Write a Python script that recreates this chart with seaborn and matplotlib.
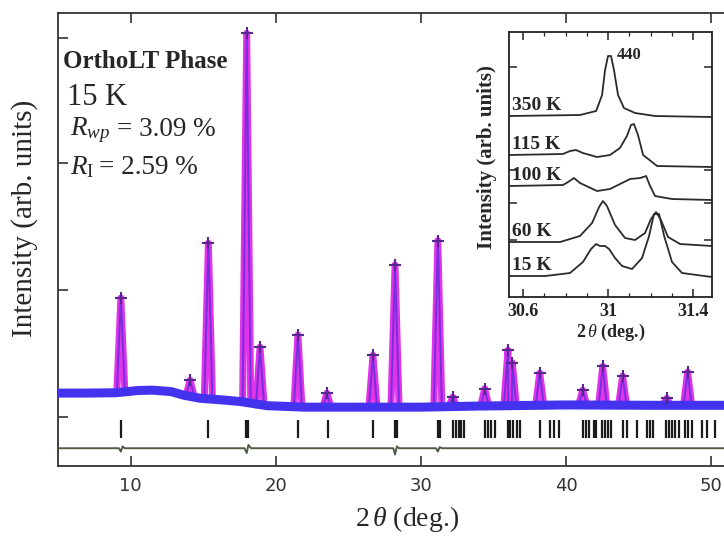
import numpy as np
import pandas as pd
import seaborn as sns
import matplotlib.pyplot as plt
from matplotlib.ticker import FixedLocator, MultipleLocator, NullFormatter

# --- 1. Data ---
# observed background (2theta in deg, intensity in arb. units)
bg_2theta = [4.9, 7.0, 9.0, 10.5, 11.5, 12.8, 13.7, 14.8, 16.5, 17.6, 19.4, 22.0, 26.0, 30.0, 34.0, 40.0, 46.0, 51.5]
bg_int = [3.8, 3.8, 3.9, 4.5, 4.6, 4.2, 3.2, 2.4, 1.9, 1.5, 0.4, 0.0, 0.0, 0.0, 0.3, 0.6, 0.5, 0.5]

# Bragg peaks of the refined pattern
peak_2theta = [9.33, 14.1, 15.36, 18.0, 18.92, 21.53, 23.53, 26.7, 28.22, 31.17,
               32.2, 34.4, 36.0, 36.3, 38.19, 41.15, 42.53, 43.9, 46.94, 48.38]
peak_base = [3.9, 3.0, 2.2, 1.2, 0.6, 0.0, 0.0, 0.0, 0.0, 0.0,
             0.1, 0.3, 0.4, 0.4, 0.5, 0.6, 0.6, 0.5, 0.5, 0.5]
peak_top = [29.5, 7.3, 44.3, 101.0, 16.2, 19.5, 3.8, 14.0, 38.4, 45.0,
            2.7, 5.0, 15.4, 12.0, 9.2, 4.6, 11.0, 8.4, 2.4, 9.5]

# reflection markers
bragg_2theta = [9.33, 15.36, 17.95, 18.1, 21.53, 23.6, 26.7, 28.2, 28.35, 31.17, 31.3,
                32.2, 32.4, 32.6, 32.8, 33.0, 34.4, 34.6, 34.8, 35.1, 36.0, 36.15, 36.35,
                36.6, 36.8, 38.2, 38.9, 39.2, 39.5, 41.2, 41.4, 41.6, 41.9, 42.1, 42.5,
                42.7, 42.9, 43.1, 43.9, 44.2, 44.9, 45.6, 45.8, 46.0, 46.9, 47.1, 47.3,
                47.5, 47.8, 48.2, 48.4, 48.7, 49.4, 49.7, 50.3]

# difference curve (obs - calc)
diff_2theta = [4.9, 9.2, 9.33, 9.45, 9.6, 17.85, 18.0, 18.12, 18.3, 28.1, 28.22, 28.35, 28.5,
               31.05, 31.17, 31.3, 31.45, 51.5]
diff_int = [-11.1, -11.1, -12.0, -10.6, -11.1, -11.1, -12.4, -10.2, -11.1, -11.1, -12.8, -10.6, -11.1,
            -11.1, -12.0, -10.8, -11.1, -11.1]

main_yticks = [-2.7, 31.6, 65.9, 99.7]

# inset: 440 reflection at several temperatures
inset_temps = ['350 K', '115 K', '100 K', '60 K', '15 K']
x_350 = [30.534, 30.868, 30.944, 30.972, 30.986, 31.0, 31.014, 31.028, 31.047, 31.075, 31.127, 31.221, 31.489]
y_350 = [181, 182, 186, 202, 227, 241, 241, 227, 202, 189, 184, 181, 180]
x_115 = [30.534, 30.788, 30.821, 30.849, 30.882, 30.948, 31.009, 31.056, 31.089, 31.108, 31.122, 31.141, 31.165, 31.231, 31.489]
y_115 = [142, 143, 146, 147, 144, 140, 142, 149, 161, 172, 173, 162, 142, 131, 130]
x_100 = [30.534, 30.788, 30.812, 30.840, 30.868, 30.948, 31.009, 31.066, 31.104, 31.151, 31.179, 31.198, 31.221, 31.301, 31.489]
y_100 = [111, 112, 115, 119, 114, 106, 108, 114, 118, 119, 121, 111, 101, 98, 97]
x_60 = [30.534, 30.774, 30.868, 30.925, 30.958, 30.976, 30.995, 31.033, 31.080, 31.127, 31.174, 31.202, 31.226, 31.249, 31.282, 31.339, 31.489]
y_60 = [55, 55, 61, 74, 90, 96, 91, 72, 59, 57, 64, 78, 85, 77, 60, 53, 51]
x_15 = [30.534, 30.704, 30.821, 30.882, 30.920, 30.944, 30.962, 30.986, 31.005, 31.033, 31.066, 31.113, 31.160, 31.193, 31.216, 31.240, 31.264, 31.301, 31.348, 31.489]
y_15 = [21, 21, 24, 35, 48, 53, 51, 51, 48, 39, 31, 28, 39, 61, 83, 83, 61, 35, 24, 20]
inset_label_y = [183, 144, 113, 57, 23]
inset_xticks = [30.6, 31.0, 31.4]
inset_xticklabels = ['30.6', '31', '31.4']
inset_yticks = [57, 94, 127, 230]

# --- 2. Style ---
sns.set_theme(style='ticks')
plt.rcParams['font.family'] = ['Liberation Serif', 'DejaVu Serif']
plt.rcParams['mathtext.fontset'] = 'custom'
plt.rcParams['mathtext.rm'] = 'Liberation Serif'
plt.rcParams['mathtext.it'] = 'Liberation Serif:italic'
plt.rcParams['mathtext.bf'] = 'Liberation Serif:bold'

fig = plt.figure(figsize=(7.24, 5.37), dpi=100)
ax = fig.add_axes([0.0801, 0.1322, 0.9282, 0.8436])

# --- 3. Main pattern ---
half_w = 0.28
vx, vy = list(bg_2theta), list(bg_int)
for p, b, t in zip(peak_2theta, peak_base, peak_top):
    vx += [p - half_w, p, p + half_w]
    vy += [b, t, b]
order = np.argsort(vx, kind='stable')
profile = pd.DataFrame({'two_theta': np.array(vx)[order],
                        'intensity': np.array(vy)[order]})

sns.lineplot(data=profile, x='two_theta', y='intensity', estimator=None, sort=False,
             color='#e233ea', linewidth=5, ax=ax, zorder=2)
sns.lineplot(data=profile, x='two_theta', y='intensity', estimator=None, sort=False,
             color='#5a2fd8', linewidth=1.4, alpha=0.8, ax=ax, zorder=3)
sns.lineplot(x=bg_2theta, y=bg_int, estimator=None, sort=False,
             color='#4433ee', linewidth=6.5, ax=ax, zorder=4)
sns.scatterplot(x=peak_2theta, y=peak_top, marker='+', s=70, color='#55288f',
                linewidth=1.5, ax=ax, zorder=6, legend=False)
ax.vlines(bragg_2theta, -8.4, -3.5, colors='#1a1a1a', linewidth=1.6, zorder=3)
sns.lineplot(x=diff_2theta, y=diff_int, estimator=None, sort=False,
             color='#4f5d47', linewidth=1.4, ax=ax, zorder=3)

ax.set_xlim(5.0, 51.3)
ax.set_ylim(-15.9, 106.5)
ax.set_xticks([10, 20, 30, 40, 50])
ax.yaxis.set_major_locator(FixedLocator(main_yticks))
ax.yaxis.set_major_formatter(NullFormatter())
ax.tick_params(direction='in', top=True, right=False, length=7, width=1.2,
               labelsize=13, pad=8, colors='#333333')
for lab in ax.get_xticklabels():
    lab.set_family('DejaVu Sans')
for sp in ax.spines.values():
    sp.set_linewidth(1.3)
    sp.set_color('#333333')
ax.set_xlabel('')
ax.set_ylabel('')

fig.text(0.562, 0.034, r'2$\,\theta$ (deg.)', ha='center', va='center', fontsize=20)
fig.text(0.0345, 0.594, 'Intensity (arb. units)', rotation=90, ha='center', va='center', fontsize=21)

fig.text(0.087, 0.885, 'OrthoLT Phase', ha='left', va='center', fontsize=18, fontweight='bold')
fig.text(0.0925, 0.819, '15 K', ha='left', va='center', fontsize=22)
fig.text(0.0967, 0.758, r'$R_{wp}$', ha='left', va='center', fontsize=19.5)
fig.text(0.161, 0.758, '= 3.09 %', ha='left', va='center', fontsize=19.5)
fig.text(0.0967, 0.689, r'$R_\mathrm{I}$', ha='left', va='center', fontsize=19.5)
fig.text(0.137, 0.689, '= 2.59 %', ha='left', va='center', fontsize=19.5)

# --- 4. Inset ---
axi = fig.add_axes([0.7030, 0.4469, 0.2804, 0.4935])
axi.set_facecolor('white')
for xs, ys in [(x_350, y_350), (x_115, y_115), (x_100, y_100), (x_60, y_60), (x_15, y_15)]:
    sns.lineplot(x=xs, y=ys, estimator=None, sort=False, color='#2b2b2b',
                 linewidth=1.3, ax=axi)
for lab, yy in zip(inset_temps, inset_label_y):
    axi.text(30.548, yy, lab, ha='left', va='bottom', fontsize=14, fontweight='bold')
axi.text(31.04, 242, '440', ha='left', va='center', fontsize=12, fontweight='bold')

axi.set_xlim(30.534, 31.489)
axi.set_ylim(0, 265)
axi.xaxis.set_major_locator(FixedLocator(inset_xticks))
axi.set_xticklabels(inset_xticklabels)
axi.xaxis.set_minor_locator(MultipleLocator(0.1))
axi.yaxis.set_major_locator(FixedLocator(inset_yticks))
axi.yaxis.set_major_formatter(NullFormatter())
axi.tick_params(which='both', direction='in', top=True, right=True, colors='#222222')
axi.tick_params(which='major', length=6, width=1.1, labelsize=13, pad=4)
axi.tick_params(which='minor', length=3, width=0.9)
for lab in axi.get_xticklabels():
    lab.set_fontweight('bold')
for sp in axi.spines.values():
    sp.set_linewidth(1.3)
    sp.set_color('#222222')
axi.set_xlabel(r'2$\,\theta$ (deg.)', fontsize=13, fontweight='bold', labelpad=2)
fig.text(0.6727, 0.7076, 'Intensity (arb. units)', rotation=90, ha='center', va='center',
         fontsize=15, fontweight='bold')

fig.savefig('out.png', dpi=100)
